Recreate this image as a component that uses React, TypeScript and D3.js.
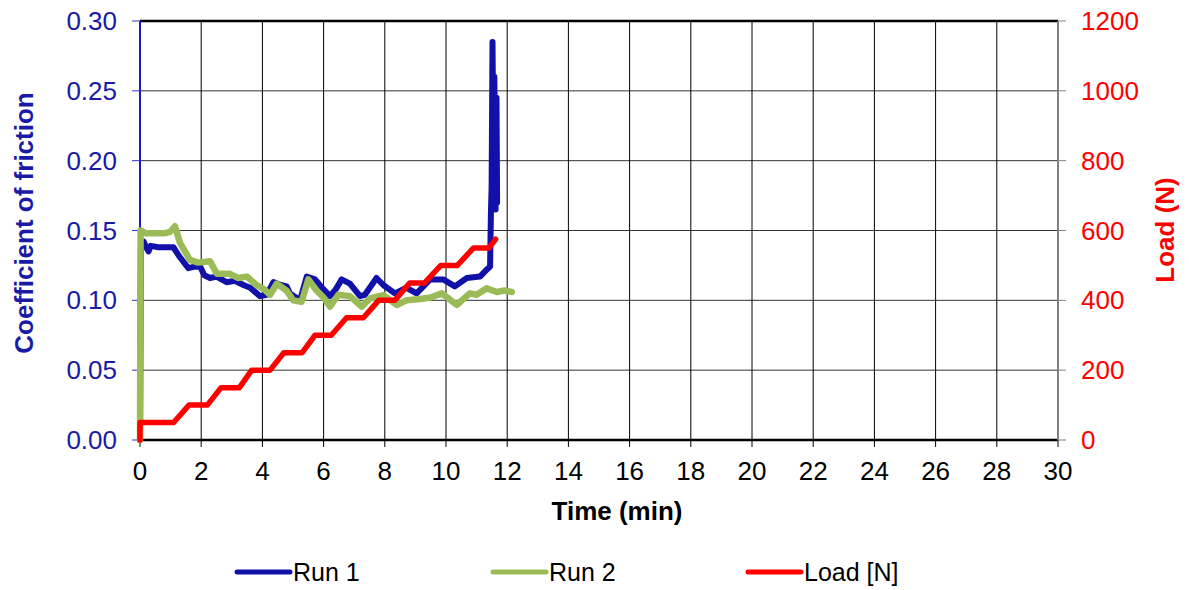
import React from "react";
import * as d3 from "d3";

// Friction test: coefficient of friction for two runs and the applied load, over time
const run1Time = [0, 0.03, 0.12, 0.2, 0.28, 0.35, 0.6, 0.9, 1.09, 1.3, 1.58, 1.75, 1.97, 2.1, 2.29, 2.5, 2.83, 3.1, 3.38, 3.6, 3.92, 4.14, 4.36, 4.6, 4.79, 4.9, 5.23, 5.45, 5.72, 5.95, 6.21, 6.4, 6.59, 6.86, 7.19, 7.35, 7.73, 7.95, 8.33, 8.71, 9.04, 9.48, 9.91, 10.29, 10.68, 11.11, 11.33, 11.44, 11.47, 11.49, 11.52, 11.55, 11.58, 11.62, 11.65, 11.67];
const run1Cof = [0, 0.141, 0.142, 0.138, 0.135, 0.139, 0.138, 0.138, 0.138, 0.131, 0.123, 0.124, 0.124, 0.118, 0.116, 0.117, 0.113, 0.114, 0.111, 0.109, 0.103, 0.104, 0.113, 0.111, 0.110, 0.105, 0.100, 0.117, 0.115, 0.109, 0.103, 0.108, 0.115, 0.112, 0.103, 0.104, 0.116, 0.111, 0.105, 0.109, 0.105, 0.115, 0.115, 0.110, 0.116, 0.117, 0.122, 0.124, 0.165, 0.18, 0.285, 0.20, 0.26, 0.165, 0.245, 0.17];

const run2Time = [0, 0.02, 0.2, 0.5, 0.8, 0.98, 1.14, 1.31, 1.63, 1.9, 2.29, 2.51, 2.94, 3.2, 3.49, 3.81, 4.05, 4.25, 4.47, 4.79, 5.01, 5.28, 5.5, 5.77, 6.0, 6.21, 6.48, 6.86, 7.24, 7.52, 7.95, 8.39, 8.71, 9.15, 9.5, 9.86, 10.1, 10.35, 10.78, 11.0, 11.33, 11.66, 11.9, 12.15];
const run2Cof = [0, 0.150, 0.148, 0.148, 0.148, 0.149, 0.153, 0.141, 0.129, 0.127, 0.128, 0.119, 0.119, 0.116, 0.117, 0.111, 0.108, 0.104, 0.112, 0.107, 0.100, 0.099, 0.115, 0.107, 0.102, 0.0955, 0.104, 0.103, 0.0955, 0.1014, 0.1038, 0.0967, 0.100, 0.101, 0.102, 0.105, 0.101, 0.0967, 0.105, 0.104, 0.1086, 0.106, 0.107, 0.106];

const loadTime = [0, 0, 1.1, 1.6, 2.2, 2.65, 3.25, 3.65, 4.25, 4.7, 5.3, 5.72, 6.25, 6.75, 7.3, 7.8, 8.33, 8.82, 9.3, 9.83, 10.37, 10.9, 11.4, 11.62];
const loadN = [0, 50, 50, 100, 100, 150, 150, 200, 200, 250, 250, 300, 300, 350, 350, 400, 400, 450, 450, 500, 500, 550, 550, 575];

const xTicks = d3.range(0, 31, 2);
const cofTicks = [0, 0.05, 0.1, 0.15, 0.2, 0.25, 0.3];
const loadTicks = [0, 200, 400, 600, 800, 1000, 1200];

const legendItems = [
  { label: "Run 1", color: "#1111AA" },
  { label: "Run 2", color: "#9BBB59" },
  { label: "Load [N]", color: "#FF0000" },
];

const W = 1189;
const H = 590;
const left = 140;
const right = 1058;
const top = 21;
const bottom = 440;
const FONT = "'Liberation Sans', Arial, sans-serif";
const BLUE_TEXT = "#1A1AA6";
const TICK_SIZE = 26;
const TITLE_SIZE = 26;

export default function App() {
  const x = d3.scaleLinear().domain([0, 30]).range([left, right]);
  const yL = d3.scaleLinear().domain([0, 0.3]).range([bottom, top]);
  const yR = d3.scaleLinear().domain([0, 1200]).range([bottom, top]);

  const lineL = d3
    .line<[number, number]>()
    .x((d) => x(d[0]))
    .y((d) => yL(d[1]));
  const lineR = d3
    .line<[number, number]>()
    .x((d) => x(d[0]))
    .y((d) => yR(d[1]));

  const run1 = run1Time.map((t, i) => [t, run1Cof[i]] as [number, number]);
  const run2 = run2Time.map((t, i) => [t, run2Cof[i]] as [number, number]);
  const load = loadTime.map((t, i) => [t, loadN[i]] as [number, number]);

  const legendX = [237, 493, 748];

  return (
    <svg
      width={W}
      height={H}
      style={{ position: "absolute", left: 0, top: 0, background: "#fff" }}
      fontFamily={FONT}
    >
      {/* grid */}
      {cofTicks.map((v) => (
        <line key={"h" + v} x1={left} x2={right} y1={yL(v)} y2={yL(v)} stroke="#333" strokeWidth={1} />
      ))}
      {xTicks.map((t) => (
        <line key={"v" + t} x1={x(t)} x2={x(t)} y1={top} y2={bottom} stroke="#000" strokeWidth={1} />
      ))}
      {/* frame */}
      <line x1={left} x2={right} y1={top} y2={top} stroke="#000" strokeWidth={2.5} />
      <line x1={left} x2={right} y1={bottom} y2={bottom} stroke="#000" strokeWidth={2.5} />
      <line x1={right} x2={right} y1={top} y2={bottom + 1} stroke="#808080" strokeWidth={2} />
      <line x1={left} x2={left} y1={top} y2={bottom} stroke="#1A1AC0" strokeWidth={2} />

      {/* left axis */}
      {cofTicks.map((v) => (
        <g key={"lt" + v}>
          <line x1={left - 8} x2={left} y1={yL(v)} y2={yL(v)} stroke="#3333CC" strokeWidth={1} />
          <text x={left - 23} y={yL(v) + 9} textAnchor="end" fontSize={TICK_SIZE} fill={BLUE_TEXT}>
            {v.toFixed(2)}
          </text>
        </g>
      ))}
      {/* right axis */}
      {loadTicks.map((v) => (
        <g key={"rt" + v}>
          <line x1={right} x2={right + 8} y1={yR(v)} y2={yR(v)} stroke="#808080" strokeWidth={1} />
          <text x={right + 23} y={yR(v) + 9} textAnchor="start" fontSize={TICK_SIZE} fill="#FF0000">
            {v}
          </text>
        </g>
      ))}
      {/* bottom axis */}
      {xTicks.map((t) => (
        <g key={"bt" + t}>
          <line x1={x(t)} x2={x(t)} y1={bottom} y2={bottom + 7} stroke="#000" strokeWidth={1} />
          <text x={x(t)} y={480} textAnchor="middle" fontSize={TICK_SIZE} fill="#000">
            {t}
          </text>
        </g>
      ))}

      {/* axis titles */}
      <text x={617} y={520} textAnchor="middle" fontSize={TITLE_SIZE} fontWeight="bold" fill="#000">
        Time (min)
      </text>
      <text
        transform={`translate(33,223) rotate(-90)`}
        textAnchor="middle"
        fontSize={TITLE_SIZE}
        fontWeight="bold"
        fill={BLUE_TEXT}
      >
        Coefficient of friction
      </text>
      <text
        transform={`translate(1174,230) rotate(-90)`}
        textAnchor="middle"
        fontSize={TITLE_SIZE}
        fontWeight="bold"
        fill="#FF0000"
      >
        Load (N)
      </text>

      {/* series */}
      <path d={lineL(run1) ?? ""} fill="none" stroke="#1111AA" strokeWidth={6} strokeLinejoin="round" strokeLinecap="round" />
      <path d={lineL(run2) ?? ""} fill="none" stroke="#9BBB59" strokeWidth={6.5} strokeLinejoin="round" strokeLinecap="round" />
      <path d={lineR(load) ?? ""} fill="none" stroke="#FF0000" strokeWidth={5.5} strokeLinejoin="round" strokeLinecap="round" />

      {/* legend */}
      {legendItems.map((it, i) => (
        <g key={it.label}>
          <line x1={legendX[i]} x2={legendX[i] + 53} y1={572} y2={572} stroke={it.color} strokeWidth={5} strokeLinecap="round" />
          <text x={legendX[i] + 56} y={581} fontSize={25} fill="#000">
            {it.label}
          </text>
        </g>
      ))}
    </svg>
  );
}
